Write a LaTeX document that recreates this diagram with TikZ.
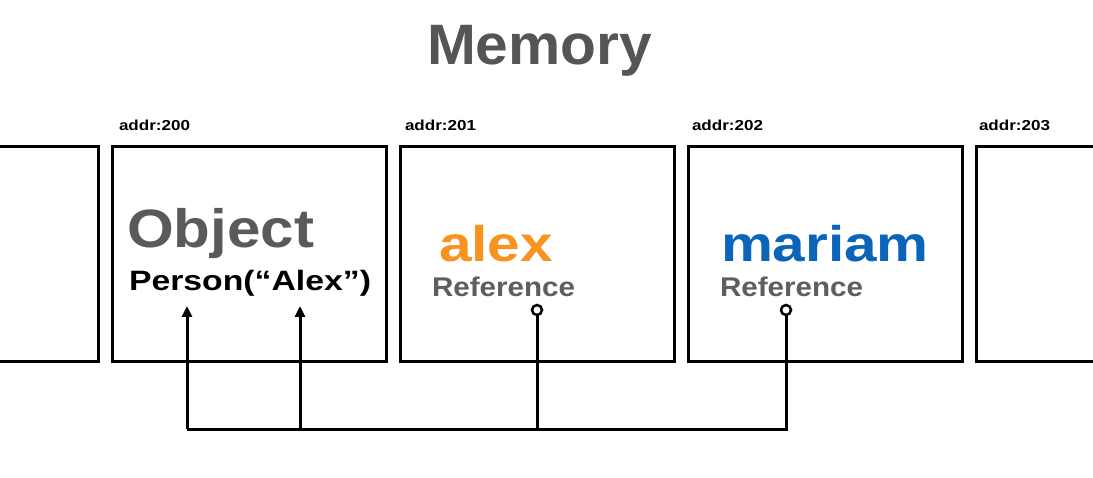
\documentclass[tikz,border=0pt]{standalone}
\usepackage{fontspec}
\usepackage{graphicx}
\setmainfont{Liberation Sans}
\usetikzlibrary{arrows.meta}
\definecolor{titlegray}{HTML}{555555}
\definecolor{objgray}{HTML}{5A5A5A}
\definecolor{refgray}{HTML}{5E5E5E}
\definecolor{alexorange}{HTML}{F7931E}
\definecolor{mariamblue}{HTML}{0A64BA}
\newcommand\fitw[3]{\resizebox{#1pt}{\height}{\fontsize{#2}{#2}\selectfont\bfseries #3}}
\tikzset{
  cell/.style={draw=black, line width=3pt, minimum width=274pt, minimum height=215pt, inner sep=0pt},
  txt/.style={anchor=base west, inner sep=0pt, outer sep=0pt},
  conn/.style={draw=black, line width=3pt},
  tip/.style={-{Triangle[length=11pt,width=10pt]}},
  endring/.style={circle, draw=black, fill=white, line width=2.5pt, minimum size=10pt, inner sep=0pt}
}
\begin{document}
\begin{tikzpicture}[x=1pt,y=-1pt]
\useasboundingbox (0,0) rectangle (1093,478);
\fill[white] (0,0) rectangle (1093,478);
% memory cells
\node[cell] (m199) at (-39,254.5) {};
\node[cell] (m200) at (249,254.5) {};
\node[cell] (m201) at (537,254.5) {};
\node[cell] (m202) at (825,254.5) {};
\node[cell] (m203) at (1113,254.5) {};
% title
\node[txt, text=titlegray] (title) at (427,65) {\fitw{225}{57}{Memory}};
% addresses
\node[txt] (a200) at (119,131) {\fitw{71}{14.5}{addr:200}};
\node[txt] (a201) at (405,131) {\fitw{71}{14.5}{addr:201}};
\node[txt] (a202) at (692,131) {\fitw{71}{14.5}{addr:202}};
\node[txt] (a203) at (979,131) {\fitw{71}{14.5}{addr:203}};
% object
\node[txt, text=objgray] (obj) at (127,248) {\fitw{187}{54}{Object}};
\node[txt] (person) at (129,291) {\fitw{242}{28}{Person(“Alex”)}};
% references
\node[txt, text=alexorange] (alex) at (439,262) {\fitw{114}{50}{alex}};
\node[txt, text=refgray] (ref1) at (432,297) {\fitw{143}{27}{Reference}};
\node[txt, text=mariamblue] (mariam) at (721,262) {\fitw{208}{50}{mariam}};
\node[txt, text=refgray] (ref2) at (720,297) {\fitw{143}{27}{Reference}};
% connector points
\coordinate (ra) at (537,310);
\coordinate (rm) at (786,310);
\coordinate (ta) at (187,306);
\coordinate (tb) at (300,306);
\coordinate (bus) at (0,429);
\draw[conn] (rm) -- (rm |- bus) -- (ta |- bus);
\draw[conn, tip] (ta |- bus) -- (ta);
\draw[conn, tip] (tb |- bus) -- (tb);
\draw[conn] (ra |- bus) -- (ra);
\node[endring] (ringa) at (ra) {};
\node[endring] (ringm) at (rm) {};
\end{tikzpicture}
\end{document}
